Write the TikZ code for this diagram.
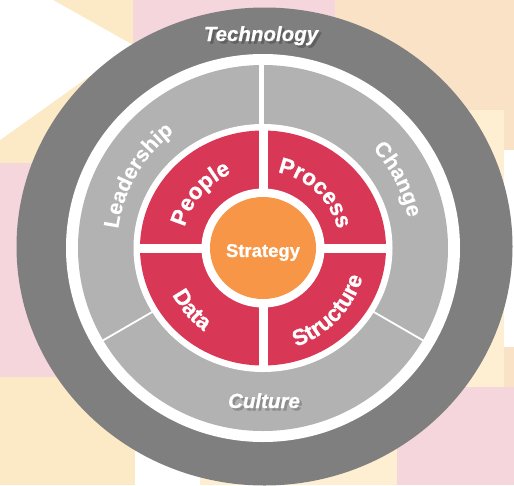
\documentclass[tikz,border=0pt]{standalone}
\usepackage{fontspec}
\setmainfont{Liberation Sans}[BoldFeatures={FakeBold=0.8}, BoldItalicFeatures={FakeBold=0.8}]
\usetikzlibrary{decorations.text,calc}
\definecolor{darkring}{HTML}{7F7F7F}
\definecolor{lightring}{HTML}{B2B2B2}
\definecolor{quadred}{HTML}{D93756}
\definecolor{stratorange}{HTML}{F79646}
\definecolor{bgyellow}{HTML}{FCE9C6}
\definecolor{bgpeach}{HTML}{F9E2C6}
\definecolor{bgpink}{HTML}{F5D6DC}
\definecolor{bgpale}{HTML}{FEEFD2}
\definecolor{shadowdark}{HTML}{606060}
\definecolor{shadowlight}{HTML}{8E8E8E}
\newcommand{\redlabelfont}{\fontsize{22.5}{24}\selectfont\bfseries}
\newcommand{\graylabelfont}{\fontsize{21.5}{23}\selectfont\bfseries}
\tikzset{
  titlelabel/.style={font=\fontsize{20.5}{22}\selectfont\bfseries\itshape, text=white, inner sep=0pt, anchor=base},
  seprule/.style={draw=white, line width=#1},
  arclabel/.style={decorate, decoration={text along path, text align=center, text={#1}}},
}
\begin{document}
\begin{tikzpicture}[x=1pt,y=1pt]
\useasboundingbox (0,0) rectangle (514,-485);
\coordinate (C) at (263,-248);
% background
\fill[bgyellow] (0,0) rectangle (514,-485);
\fill[white] (0,0) -- (53,0) -- (133,-45) -- (0,-140) -- cycle;
\fill[bgpink] (133,0) rectangle (335,-80);
\fill[bgpeach] (335,0) rectangle (514,-390);
\fill[bgpale] (397,-110) rectangle (504,-387);
\fill[white] (504,-150) rectangle (514,-347);
\fill[bgpink] (397,-387) rectangle (514,-485);
\fill[bgpink] (0,-163) rectangle (60,-377);
\fill[white] (135,-440) rectangle (200,-485);
\fill[bgpale] (200,-430) rectangle (397,-485);
% rings
\fill[darkring] (264.5,-246.5) ellipse[x radius=248, y radius=239];
\fill[white] (C) ellipse[x radius=197, y radius=194];
\fill[lightring] (C) ellipse[x radius=185, y radius=183];
\coordinate (topsep) at ($(C)+(-2,0)$);
\draw[seprule=5] (topsep) -- ++(0,186);
\draw[seprule=1.8] (C) -- ($(C)+(210:188)$);
\draw[seprule=1.8] (C) -- ($(C)+(330:188)$);
\fill[white] (C) ellipse[x radius=129.5, y radius=124];
\fill[quadred] (C) ellipse[x radius=123, y radius=117.5];
\draw[seprule=9] ($(C)+(-127,0)$) -- ($(C)+(127,0)$);
\draw[seprule=9] ($(C)+(0,-122)$) -- ($(C)+(0,122)$);
\fill[white] (C) ellipse[x radius=61.5, y radius=59.5];
\fill[stratorange] (C) ellipse[x radius=53, y radius=51];
% centre label
\node[font=\fontsize{18.5}{20}\selectfont\bfseries, text=white, inner sep=0pt, anchor=base] (strategy) at (263,-257) {Strategy};
% outer labels with shadows
\node[titlelabel, text=shadowdark] (techshadow) at (263.5,-43.5) {Technology};
\node[titlelabel] (technology) at (261,-41) {Technology};
\node[titlelabel, text=shadowlight] (cultshadow) at (266.5,-410.5) {Culture};
\node[titlelabel] (culture) at (264,-408) {Culture};
% gray ring labels
\path[shift={(1.8,-2.2)}, arclabel={|\graylabelfont\color{shadowlight}|Leadership}] ($(C)+(200:146)$) arc[start angle=200, end angle=100, radius=146];
\path[arclabel={|\graylabelfont\color{white}|Leadership}] ($(C)+(200:146)$) arc[start angle=200, end angle=100, radius=146];
\path[shift={(1.8,-2.2)}, arclabel={|\graylabelfont\color{shadowlight}|Change}] ($(C)+(77:148)$) arc[start angle=77, end angle=-23, radius=148];
\path[arclabel={|\graylabelfont\color{white}|Change}] ($(C)+(77:148)$) arc[start angle=77, end angle=-23, radius=148];
% red quadrant labels
\path[arclabel={|\redlabelfont\color{white}|People}] ($(C)+(184:81)$) arc[start angle=184, end angle=94, radius=81];
\path[arclabel={|\redlabelfont\color{white}|Process}] ($(C)+(91.5:77)$) arc[start angle=91.5, end angle=1.5, radius=77];
\path[arclabel={|\redlabelfont\color{white}|Data}] ($(C)+(176:102)$) arc[start angle=176, end angle=266, radius=102];
\path[arclabel={|\redlabelfont\color{white}|Structure}] ($(C)+(-89:104)$) arc[start angle=-89, end angle=1, radius=104];
\end{tikzpicture}
\end{document}
